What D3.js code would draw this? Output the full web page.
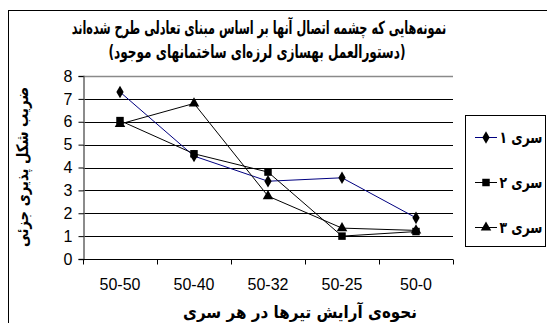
<!DOCTYPE html>
<html>
<head>
<meta charset="utf-8">
<script src="https://cdn.jsdelivr.net/npm/d3@7/dist/d3.min.js"></script>
<style>
  html, body { margin: 0; padding: 0; background: #fff; }
  svg { display: block; }
</style>
</head>
<body>
<svg id="chart" width="547" height="323"></svg>
<script>
// Beam arrangement per series (x categories)
const categories = ["50-50", "50-40", "50-32", "50-25", "50-0"];
// Partial ductility factor per series
const series1 = [7.3, 4.5, 3.4, 3.55, 1.8];
const series2 = [6.05, 4.6, 3.8, 1.0, 1.2];
const series3 = [5.9, 6.8, 2.75, 1.35, 1.25];
const seriesNames = ["سری ۱", "سری ۲", "سری ۳"];
const yTicks = [0, 1, 2, 3, 4, 5, 6, 7, 8];
const titleLines = ["نمونه‌هایی که چشمه اتصال آنها بر اساس مبنای تعادلی طرح شده‌اند", "(دستورالعمل بهسازی لرزه‌ای ساختمانهای موجود)"];
const xTitle = "نحوه‌ی آرایش تیرها در هر سری";
const yTitle = "ضریب شکل پذیری جزئی";

const svg = d3.select("#chart");
const faFont = "'DejaVu Sans', 'Noto Sans', sans-serif";
const numFont = "'Liberation Sans', Arial, sans-serif";

// outer chart frame
svg.append("rect")
  .attr("x", 8.5).attr("y", 10.5).attr("width", 560).attr("height", 330)
  .attr("fill", "none").attr("stroke", "#000").attr("stroke-width", 1);

const plot = { left: 83, right: 453, top: 76, bottom: 259 };

const x = d3.scaleBand().domain(categories).range([plot.left, plot.right]).padding(0);
const y = d3.scaleLinear().domain([0, 8]).range([plot.bottom, plot.top]);

// gridlines
svg.append("g").selectAll("line").data(yTicks.filter(d => d > 0)).join("line")
  .attr("x1", plot.left).attr("x2", plot.right)
  .attr("y1", d => Math.round(y(d)) + 0.5).attr("y2", d => Math.round(y(d)) + 0.5)
  .attr("stroke", d => d === 8 ? "#8a8a8a" : "#000").attr("stroke-width", d => d === 8 ? 1.5 : 1);

// y axis
const yAxis = svg.append("g").attr("transform", `translate(${plot.left + 0.5},0)`)
  .call(d3.axisLeft(y).tickValues(yTicks).tickSize(5).tickPadding(6).tickFormat(d3.format("d")));
yAxis.select(".domain").attr("stroke", "#666").attr("stroke-width", 1.5);
yAxis.selectAll(".tick line").attr("stroke", "#000");
yAxis.selectAll(".tick text").attr("font-family", numFont).attr("font-size", 16).attr("fill", "#000");

// x axis
const xAxis = svg.append("g").attr("transform", `translate(0,${plot.bottom + 0.5})`)
  .call(d3.axisBottom(x).tickSize(0).tickPadding(19));
xAxis.select(".domain").attr("stroke", "#000").attr("d", `M${plot.left},0H${plot.right}`);
xAxis.selectAll(".tick text").attr("font-family", numFont).attr("font-size", 16).attr("fill", "#000");
// boundary ticks between categories
xAxis.append("g").selectAll("line").data(d3.range(categories.length + 1)).join("line")
  .attr("x1", i => Math.round(plot.left + i * x.step()) + 0.5)
  .attr("x2", i => Math.round(plot.left + i * x.step()) + 0.5)
  .attr("y1", 0).attr("y2", 5).attr("stroke", "#000");

const cx = c => x(c) + x.bandwidth() / 2;
const line = d3.line().x((d, i) => cx(categories[i])).y(d => y(d));

const seriesData = [
  { values: series1, color: "#000080", marker: d3.symbolDiamond, size: 46 },
  { values: series2, color: "#000", marker: d3.symbolSquare, size: 56 },
  { values: series3, color: "#000", marker: d3.symbolTriangle, size: 48 }
];

seriesData.forEach(s => {
  svg.append("path").datum(s.values).attr("d", line)
    .attr("fill", "none").attr("stroke", s.color).attr("stroke-width", 1);
});
seriesData.forEach(s => {
  svg.append("g").selectAll("path").data(s.values).join("path")
    .attr("d", d3.symbol().type(s.marker).size(s.size))
    .attr("transform", (d, i) => `translate(${cx(categories[i])},${y(d)})`)
    .attr("fill", "#000");
});

// Persian label: bold RTL text, centred on (cx, cy) baseline, squeezed horizontally to a width
function faLabel(parent, str, size, cxPos, base, width, rotate) {
  const g = parent.append("g");
  const t = g.append("text")
    .attr("text-anchor", "middle").attr("direction", "rtl")
    .attr("font-family", faFont).attr("font-weight", "bold").attr("font-size", size)
    .attr("fill", "#000").text(str);
  const natural = t.node().getComputedTextLength();
  const k = Math.min(1, width / natural);
  g.attr("transform", `translate(${cxPos},${base})${rotate ? " rotate(-90)" : ""} scale(${k},1)`);
  return g;
}

// title
faLabel(svg, titleLines[0], 18, 259, 34, 375);
faLabel(svg, titleLines[1], 18, 257, 58, 297);

// axis titles
faLabel(svg, xTitle, 17, 300, 318, 234);
faLabel(svg, yTitle, 16, 28, 167, 160, true);

// legend
svg.append("rect").attr("x", 465.5).attr("y", 115.5).attr("width", 80).attr("height", 131)
  .attr("fill", "#fff").attr("stroke", "#000");
const legend = svg.append("g").selectAll("g").data(seriesData).join("g")
  .attr("transform", (d, i) => `translate(0,${137 + i * 45})`);
legend.append("line").attr("x1", 475).attr("x2", 497).attr("y1", 0.5).attr("y2", 0.5)
  .attr("stroke", d => d.color);
legend.append("path")
  .attr("d", d => d3.symbol().type(d.marker).size(d.size)())
  .attr("transform", "translate(486,0.5)").attr("fill", "#000");
legend.each(function (d, i) {
  faLabel(d3.select(this), seriesNames[i], 16, 521, 6, 43);
});
</script>
</body>
</html>
